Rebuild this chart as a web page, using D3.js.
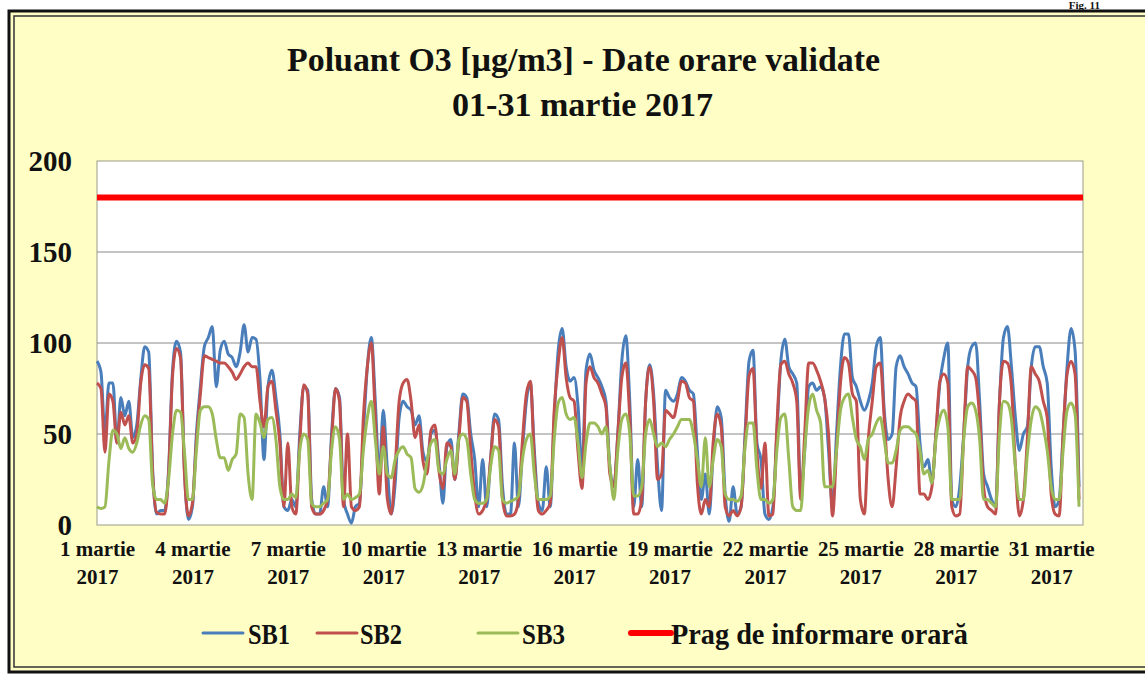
<!DOCTYPE html>
<html>
<head>
<meta charset="utf-8">
<script src="https://cdn.jsdelivr.net/npm/d3@7"></script>
<style>
  body { margin: 0; background: #fff; }
  svg { display: block; }
  text { font-family: "Liberation Serif", "Times New Roman", serif; font-weight: bold; fill: #111; }
</style>
</head>
<body>
<svg id="chart" width="1145" height="675"></svg>
<script>
// values, one every 3 hours (00,03,...,21h), 8 per day
const hoursPerStep = 3;
const tickDays = [1, 4, 7, 10, 13, 16, 19, 22, 25, 28, 31];
const tickMonth = "martie";
const tickYear = "2017";
const yTicks = [0, 50, 100, 150, 200];
const threshold = 180;
const seriesNames = ["SB1", "SB2", "SB3"];
const thresholdName = "Prag de informare orară";

const sb1 = [
  90, 84, 50, 78, 78, 45, 70, 60,      // 1
  68, 48, 55, 80, 98, 95, 30, 6,       // 2
  8, 8, 30, 85, 101, 95, 30, 3,        // 3
  10, 50, 76, 98, 103, 109, 76, 96,    // 4
  101, 94, 92, 87, 95, 110, 95, 103,   // 5
  102, 80, 36, 76, 85, 70, 50, 10,     // 6
  8, 14, 10, 50, 76, 74, 14, 6,        // 7
  6, 21, 10, 50, 75, 70, 14, 6,        // 8
  1, 10, 12, 50, 87, 103, 68, 28,      // 9
  63, 32, 6, 23, 59, 68, 65, 63,       // 10
  55, 60, 40, 35, 50, 52, 35, 12,      // 11
  43, 47, 25, 50, 72, 70, 50, 36,      // 12
  10, 36, 10, 36, 61, 58, 21, 6,       // 13
  6, 45, 10, 41, 68, 78, 41, 12,       // 14
  8, 32, 10, 59, 96, 108, 87, 79,      // 15
  81, 65, 30, 85, 94, 85, 81, 76,      // 16
  68, 32, 21, 50, 90, 104, 68, 10,     // 17
  36, 10, 68, 88, 72, 32, 8, 74,       // 18
  70, 68, 72, 81, 79, 74, 72, 41,      // 19
  14, 28, 6, 41, 65, 59, 17, 2,        // 20
  21, 6, 10, 50, 90, 96, 45, 36,       // 21
  6, 3, 10, 50, 90, 102, 87, 83,       // 22
  78, 17, 41, 76, 78, 74, 76, 70,      // 23
  41, 10, 50, 87, 105, 105, 81, 76,    // 24
  68, 63, 68, 78, 98, 103, 63, 47,     // 25
  50, 87, 93, 87, 83, 78, 76, 45,      // 26
  32, 36, 23, 50, 78, 92, 100, 14,     // 27
  10, 21, 50, 87, 98, 100, 68, 28,     // 28
  21, 14, 10, 68, 103, 109, 87, 59,    // 29
  41, 50, 54, 87, 98, 98, 87, 78,      // 30
  32, 10, 14, 50, 87, 108, 96, 21      // 31
];

const sb2 = [
  78, 75, 40, 72, 68, 45, 62, 55,
  60, 45, 50, 78, 88, 86, 28, 7,
  6, 6, 28, 82, 97, 92, 28, 5,
  12, 46, 72, 93, 92, 91, 90, 89,
  89, 87, 84, 80, 83, 87, 89, 87,
  87, 68, 54, 76, 79, 63, 45, 10,
  45, 10, 6, 45, 77, 72, 10, 6,
  6, 8, 14, 46, 75, 68, 10, 50,
  10, 8, 10, 59, 87, 100, 59, 17,
  54, 15, 6, 32, 68, 78, 80, 68,
  48, 55, 35, 28, 52, 55, 30, 20,
  45, 43, 25, 47, 70, 68, 41, 17,
  6, 8, 14, 36, 58, 54, 14, 5,
  5, 6, 14, 46, 72, 79, 36, 8,
  6, 8, 12, 63, 89, 103, 81, 70,
  68, 40, 20, 78, 87, 81, 78, 72,
  65, 28, 21, 50, 81, 89, 59, 6,
  6, 14, 68, 87, 68, 25, 28, 63,
  61, 59, 68, 79, 78, 70, 68, 23,
  6, 14, 10, 46, 61, 54, 10, 5,
  8, 5, 10, 46, 82, 86, 40, 20,
  45, 5, 6, 54, 88, 90, 83, 78,
  68, 14, 50, 89, 89, 85, 79, 70,
  50, 5, 41, 78, 92, 89, 72, 68,
  14, 6, 47, 68, 87, 89, 59, 25,
  10, 32, 59, 68, 72, 70, 68, 17,
  17, 14, 21, 50, 79, 83, 78, 10,
  5, 6, 50, 87, 85, 81, 59, 21,
  10, 8, 6, 68, 90, 89, 76, 32,
  5, 14, 47, 87, 83, 79, 68, 59,
  17, 6, 5, 50, 83, 90, 83, 14
];

const sb3 = [
  10, 9, 10, 35, 52, 50, 42, 48,
  42, 40, 45, 55, 60, 58, 22, 14,
  14, 12, 25, 50, 63, 62, 40, 14,
  14, 41, 63, 65, 65, 61, 47, 37,
  37, 30, 36, 39, 61, 59, 28, 14,
  61, 56, 48, 58, 59, 47, 21, 14,
  14, 17, 15, 41, 50, 47, 12, 10,
  10, 12, 14, 41, 54, 47, 14, 17,
  14, 15, 17, 41, 59, 68, 47, 28,
  43, 28, 26, 36, 41, 43, 39, 37,
  20, 18, 22, 35, 45, 47, 30, 28,
  36, 41, 28, 47, 50, 47, 28, 14,
  12, 12, 14, 32, 43, 41, 14, 12,
  13, 14, 16, 36, 47, 50, 28, 14,
  14, 14, 16, 47, 67, 70, 61, 58,
  59, 45, 26, 45, 56, 56, 54, 50,
  54, 32, 14, 41, 58, 61, 50, 16,
  16, 21, 50, 58, 50, 43, 45, 43,
  47, 50, 54, 58, 58, 58, 50, 36,
  21, 48, 21, 36, 47, 43, 17, 14,
  14, 13, 16, 43, 56, 56, 30, 14,
  14, 12, 14, 41, 59, 61, 36, 10,
  8, 8, 41, 65, 72, 63, 56, 21,
  21, 21, 41, 63, 70, 72, 59, 47,
  43, 36, 47, 50, 56, 59, 47, 34,
  34, 41, 52, 54, 54, 52, 50, 41,
  28, 30, 23, 47, 59, 63, 54, 14,
  14, 14, 47, 65, 67, 63, 47, 14,
  14, 12, 10, 50, 68, 67, 58, 32,
  14, 14, 39, 58, 65, 63, 54, 41,
  21, 14, 14, 41, 63, 67, 61, 10
];

const colors = ["#4a7ebb", "#c0504d", "#9bbb59"];
const thresholdColor = "#ff0000";

const svg = d3.select("#chart");

// frame
svg.append("rect").attr("x", 9).attr("y", 11).attr("width", 1160).attr("height", 661)
  .attr("fill", "#fffec4").attr("stroke", "#111").attr("stroke-width", 3);
svg.append("rect").attr("x", 14).attr("y", 16).attr("width", 1150).attr("height", 651)
  .attr("fill", "none").attr("stroke", "#333").attr("stroke-width", 1.5);

svg.append("text").attr("x", 1100).attr("y", 9).attr("text-anchor", "end")
  .style("font-size", "11px").text("Fig. 11");

// title
svg.append("text").attr("x", 287).attr("y", 71)
  .attr("textLength", 593).attr("lengthAdjust", "spacingAndGlyphs")
  .style("font-size", "34px").text("Poluant O3 [µg/m3] - Date orare validate");
svg.append("text").attr("x", 452).attr("y", 116)
  .attr("textLength", 261).attr("lengthAdjust", "spacingAndGlyphs")
  .style("font-size", "34px").text("01-31 martie 2017");

const nDays = 31;
const x = d3.scaleLinear().domain([0, nDays * 24]).range([97, 1083]);
const y = d3.scaleLinear().domain([0, 200]).range([525, 161]);

// plot area
svg.append("rect").attr("x", x(0)).attr("y", y(200))
  .attr("width", x(nDays * 24) - x(0)).attr("height", y(0) - y(200))
  .attr("fill", "#fff").attr("stroke", "#9a9a8a").attr("stroke-width", 1);

svg.append("g").selectAll("line").data(yTicks.filter(v => v > 0 && v < 200)).join("line")
  .attr("x1", x(0)).attr("x2", x(nDays * 24))
  .attr("y1", d => y(d)).attr("y2", d => y(d))
  .attr("stroke", "#8a8a8a").attr("stroke-width", 1);

// y axis
const yAxis = svg.append("g").attr("transform", `translate(${x(0)},0)`)
  .call(d3.axisLeft(y).tickValues(yTicks).tickSize(0).tickPadding(25));
yAxis.select(".domain").remove();
yAxis.selectAll("text").style("font-size", "29px").attr("fill", "#111")
  .style("font-family", "Liberation Serif, serif");

// x axis, two-line labels
const xAxis = svg.append("g").attr("transform", `translate(0,${y(0)})`)
  .call(d3.axisBottom(x).tickValues(tickDays.map(d => (d - 1) * 24)).tickSize(0).tickFormat(""));
xAxis.select(".domain").remove();
xAxis.selectAll(".tick").each(function(h) {
  const t = d3.select(this).append("text").attr("text-anchor", "middle")
    .style("font-size", "21px").attr("fill", "#111");
  t.append("tspan").attr("x", 0).attr("y", 31).text(`${h / 24 + 1} ${tickMonth}`);
  t.append("tspan").attr("x", 0).attr("y", 59).text(tickYear);
});

// series
const line = d3.line()
  .x((d, i) => x(i * hoursPerStep))
  .y(d => y(d))
  .curve(d3.curveMonotoneX);

[sb1, sb2, sb3].forEach((s, k) => {
  svg.append("path").datum(s)
    .attr("fill", "none").attr("stroke", colors[k])
    .attr("stroke-width", 3).attr("stroke-linejoin", "round")
    .attr("d", line);
});

svg.append("line").attr("x1", x(0)).attr("x2", x(nDays * 24))
  .attr("y1", y(threshold)).attr("y2", y(threshold))
  .attr("stroke", thresholdColor).attr("stroke-width", 6);

// legend
const legendItems = [
  { name: seriesNames[0], color: colors[0], w: 3, lx: 203, tx: 248, tl: 42 },
  { name: seriesNames[1], color: colors[1], w: 3, lx: 317, tx: 360, tl: 42 },
  { name: seriesNames[2], color: colors[2], w: 3, lx: 478, tx: 522, tl: 43 },
  { name: thresholdName, color: thresholdColor, w: 6, lx: 631, tx: 671, tl: 297 }
];
const lg = svg.append("g");
legendItems.forEach(it => {
  lg.append("line").attr("x1", it.lx).attr("x2", it.lx + 40)
    .attr("y1", 633).attr("y2", 633)
    .attr("stroke", it.color).attr("stroke-width", it.w).attr("stroke-linecap", "round");
  lg.append("text").attr("x", it.tx).attr("y", 644)
    .attr("textLength", it.tl).attr("lengthAdjust", "spacingAndGlyphs")
    .style("font-size", "30px").text(it.name);
});
</script>
</body>
</html>
